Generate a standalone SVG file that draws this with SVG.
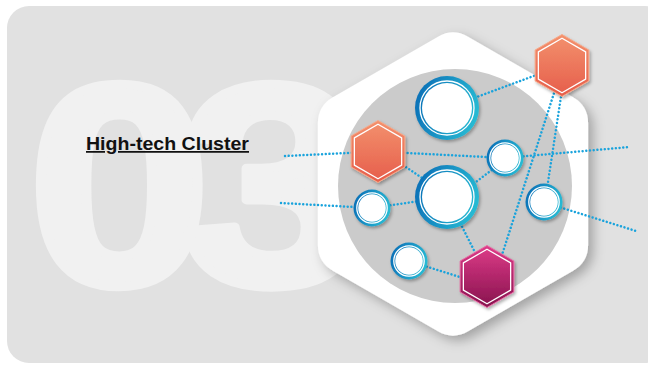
<svg xmlns="http://www.w3.org/2000/svg" xmlns:xlink="http://www.w3.org/1999/xlink" width="648" height="365" viewBox="0 0 648 365">
<defs>
<style>
.bg{fill:#e1e1e1}
.num{font-family:"Liberation Sans",Arial,sans-serif;font-weight:700;font-size:286px;fill:#f1f1f1;stroke:#f1f1f1;stroke-width:9;stroke-linejoin:round;letter-spacing:-26px}
.label{font-family:"Liberation Sans",Arial,sans-serif;font-weight:700;font-size:17.5px;fill:#111111;text-decoration:underline}
.conn{fill:none;stroke:#1aa3dc;stroke-width:2.5;stroke-linecap:round;stroke-dasharray:0.01 3.7}
.ring{fill:url(#blueGrad)}
.inline{fill:none;stroke:#ffffff;stroke-width:1.3}
.core{fill:#ffffff}
.hexo{fill:url(#orangeGrad);stroke:#f7a888;stroke-width:1}
.hexm{fill:url(#magentaGrad);stroke:#e76aa4;stroke-width:1}
.hexin{fill:none;stroke:#ffffff;stroke-width:1.3;stroke-linejoin:round}
</style>
<linearGradient id="blueGrad" x1="0" y1="0.2" x2="1" y2="0.5">
<stop offset="0" stop-color="#0b6db6"/>
<stop offset="1" stop-color="#28bad3"/>
</linearGradient>
<linearGradient id="orangeGrad" x1="0" y1="0" x2="0" y2="1">
<stop offset="0" stop-color="#f3916d"/>
<stop offset="1" stop-color="#e65d4b"/>
</linearGradient>
<linearGradient id="magentaGrad" x1="0" y1="0" x2="0" y2="1">
<stop offset="0" stop-color="#de3b88"/>
<stop offset="1" stop-color="#87134e"/>
</linearGradient>
<filter id="bigShadow" x="-20%" y="-20%" width="140%" height="140%">
<feDropShadow dx="5" dy="5" stdDeviation="6" flood-color="#000000" flood-opacity="0.28"/>
</filter>
<filter id="nodeShadow" x="-30%" y="-30%" width="160%" height="160%">
<feDropShadow dx="1.5" dy="2" stdDeviation="1.5" flood-color="#000000" flood-opacity="0.3"/>
</filter>
<path id="hex" d="M0,-31 L26.85,-15.5 L26.85,15.5 L0,31 L-26.85,15.5 L-26.85,-15.5 Z"/>
<path id="hexIn" d="M0,-27.3 L23.64,-13.65 L23.64,13.65 L0,27.3 L-23.64,13.65 L-23.64,-13.65 Z"/>
</defs>

<rect class="bg" x="7" y="6" width="660" height="357" rx="22"/>

<text class="num" x="24.4" y="284" transform="scale(1.15,1)">03</text>

<text class="label" x="86" y="150" textLength="163" lengthAdjust="spacingAndGlyphs">High-tech Cluster</text>

<g id="frame">
<path filter="url(#bigShadow)" fill="#ffffff" d="M438,36.65 Q453,28 468,36.65 L573.1,97.35 Q588.1,106 588.1,123.3 L588.1,244.7 Q588.1,262 573.1,270.65 L468,331.35 Q453,340 438,331.35 L332.9,270.65 Q317.9,262 317.9,244.7 L317.9,123.3 Q317.9,106 332.9,97.35 Z"/>
<circle cx="455" cy="186" r="117" fill="#cbcbcb"/>
</g>

<g id="connectors">
<line class="conn" x1="285" y1="156" x2="378" y2="151.5"/>
<line class="conn" x1="281" y1="203" x2="372" y2="208"/>
<line class="conn" x1="378" y1="151.5" x2="505" y2="158"/>
<line class="conn" x1="505" y1="158" x2="630" y2="147"/>
<line class="conn" x1="400" y1="163" x2="428" y2="182"/>
<line class="conn" x1="468" y1="188" x2="497" y2="166"/>
<line class="conn" x1="372" y1="208" x2="447" y2="197"/>
<line class="conn" x1="447" y1="197" x2="487" y2="276"/>
<line class="conn" x1="409" y1="261" x2="466" y2="279"/>
<line class="conn" x1="447" y1="108" x2="562" y2="65.5"/>
<line class="conn" x1="555" y1="90" x2="501" y2="258"/>
<line class="conn" x1="562" y1="90" x2="545" y2="202"/>
<line class="conn" x1="543" y1="202" x2="636" y2="231"/>
</g>

<g id="circle-top" filter="url(#nodeShadow)">
<circle class="ring" cx="447" cy="108" r="32"/>
<circle class="inline" cx="447" cy="108" r="27"/>
<circle class="core" cx="447" cy="108" r="25"/>
</g>
<g id="circle-center" filter="url(#nodeShadow)">
<circle class="ring" cx="447" cy="197" r="32"/>
<circle class="inline" cx="447" cy="197" r="27"/>
<circle class="core" cx="447" cy="197" r="25"/>
</g>
<g id="circle-left" filter="url(#nodeShadow)">
<circle class="ring" cx="372" cy="208" r="18.5"/>
<circle class="inline" cx="372" cy="208" r="15.2"/>
<circle class="core" cx="372" cy="208" r="13.8"/>
</g>
<g id="circle-bottom" filter="url(#nodeShadow)">
<circle class="ring" cx="409" cy="261" r="18.5"/>
<circle class="inline" cx="409" cy="261" r="15.2"/>
<circle class="core" cx="409" cy="261" r="13.8"/>
</g>
<g id="circle-upper-right" filter="url(#nodeShadow)">
<circle class="ring" cx="505" cy="158" r="18.5"/>
<circle class="inline" cx="505" cy="158" r="15.2"/>
<circle class="core" cx="505" cy="158" r="13.8"/>
</g>
<g id="circle-right" filter="url(#nodeShadow)">
<circle class="ring" cx="544" cy="202" r="18.5"/>
<circle class="inline" cx="544" cy="202" r="15.2"/>
<circle class="core" cx="544" cy="202" r="13.8"/>
</g>

<g id="hex-left" filter="url(#nodeShadow)" transform="translate(378,151.5)">
<use href="#hex" class="hexo"/>
<use href="#hexIn" class="hexin"/>
</g>
<g id="hex-top-right" filter="url(#nodeShadow)" transform="translate(562,65.5)">
<use href="#hex" class="hexo"/>
<use href="#hexIn" class="hexin"/>
</g>
<g id="hex-bottom" filter="url(#nodeShadow)" transform="translate(487,276.5)">
<use href="#hex" class="hexm"/>
<use href="#hexIn" class="hexin"/>
</g>
</svg>
